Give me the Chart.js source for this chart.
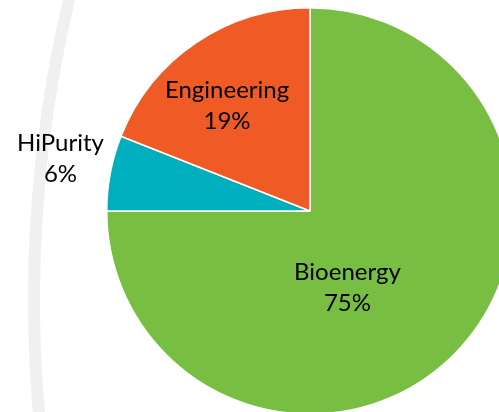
<!DOCTYPE html>
<html>
<head>
<meta charset="utf-8">
<script src="https://cdn.jsdelivr.net/npm/chart.js@4"></script>
<style>
  html, body { margin: 0; padding: 0; background: #fff; overflow: hidden; }
  #wrap { position: absolute; left: 0; top: 0; width: 620px; height: 422px; }
</style>
</head>
<body>
<div id="wrap"><canvas id="myChart"></canvas></div>
<script>
const segments = ["Bioenergy", "HiPurity", "Engineering"];
const shares = [75, 6, 19];
const sliceColors = ["#77BE43", "#00AFBD", "#F05A24"];

// where each label sits: angle shift (deg) from slice middle, distance as part of radius
const labelAngleShift = [19, 1.2, -4];
const labelRadius = [0.42, 1.255, 0.66];

// faint grey arc in the background on the left
const backArc = {
  id: "backArc",
  beforeDraw(chart) {
    const ctx = chart.ctx;
    ctx.save();
    ctx.strokeStyle = "#F0F0F0";
    ctx.lineWidth = 12;
    ctx.beginPath();
    ctx.arc(34 + 1303, 300, 1303, Math.PI * 0.8, Math.PI * 1.2);
    ctx.stroke();
    ctx.restore();
  }
};

const sliceLabels = {
  id: "sliceLabels",
  afterDatasetsDraw(chart) {
    const ctx = chart.ctx;
    const meta = chart.getDatasetMeta(0);
    ctx.save();
    ctx.fillStyle = "#000";
    ctx.font = "24px Lato";
    ctx.textAlign = "center";
    ctx.textBaseline = "middle";
    meta.data.forEach((arc, i) => {
      const p = arc.getProps(["x", "y", "startAngle", "endAngle", "outerRadius"], true);
      const mid = (p.startAngle + p.endAngle) / 2 + labelAngleShift[i] * Math.PI / 180;
      const r = p.outerRadius * labelRadius[i];
      const x = p.x + Math.cos(mid) * r;
      const y = p.y + Math.sin(mid) * r;
      ctx.fillText(segments[i], x, y - 15);
      ctx.fillText(shares[i] + "%", x, y + 16);
    });
    ctx.restore();
  }
};

new Chart("myChart", {
  type: "pie",
  data: {
    labels: segments,
    datasets: [{
      data: shares,
      backgroundColor: sliceColors,
      borderColor: "#fff",
      borderWidth: 1.5
    }]
  },
  options: {
    responsive: true,
    maintainAspectRatio: false,
    animation: false,
    layout: { padding: { left: 106, right: 106, top: 7, bottom: 7 } },
    plugins: {
      legend: { display: false },
      tooltip: { enabled: false }
    }
  },
  plugins: [backArc, sliceLabels]
});
</script>
</body>
</html>
